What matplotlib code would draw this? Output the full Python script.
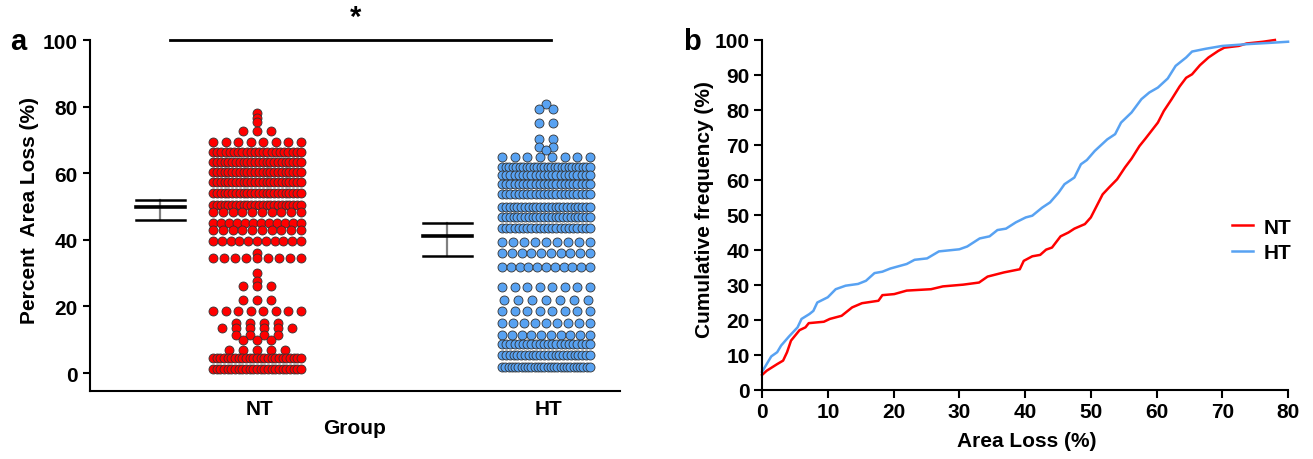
import numpy as np
import matplotlib
matplotlib.use("Agg")
import matplotlib.pyplot as plt

plt.rcParams['font.family'] = ['Liberation Sans', 'DejaVu Sans']
plt.rcParams['font.weight'] = 'bold'

# ---- panel a: rows of the scatter (value, number of points) ----
nt_levels = [78, 76.5, 75.5, 72.7, 69.5, 66.5, 63.5, 60.5, 57.5, 54, 50.5, 48.5,
             45, 43, 39.5, 36, 34.5, 30, 27.7, 26, 22, 18.5, 15, 13.5, 11.5,
             9.8, 6.9, 4.5, 1.2]
nt_counts = [1, 1, 1, 3, 8, 22, 24, 24, 24, 24, 24, 10,
             12, 10, 11, 1, 9, 1, 1, 3, 3, 8, 4, 6, 4,
             3, 5, 25, 25]

ht_levels = [80.8, 79.2, 75, 70.4, 67.8, 67, 65, 62, 59.5, 56.8, 53.8, 49.8,
             46.8, 43.5, 39.3, 36, 31.8, 25.8, 22, 18.5, 15, 11.5, 8.7, 5.5, 1.8]
ht_counts = [1, 2, 2, 2, 2, 1, 8, 26, 22, 22, 22, 24,
             24, 22, 9, 10, 11, 8, 7, 8, 9, 10, 22, 24, 28]

groups = ['NT', 'HT']
# lower, mean, upper of the error bars
nt_summary = [46, 50, 52]
ht_summary = [35, 41.3, 45]

# ---- panel b: cumulative frequency curves ----
cdf_nt_x = [0, 0.7, 2.3, 3.2, 3.8, 4.4, 5.7, 6.6, 7.1, 9.4, 10.3, 12.1, 13.7, 15.2,
            17.7, 18.3, 20.1, 22, 25.7, 27.5, 30.6, 33, 34.3, 36.8, 39.2, 39.8,
            41.1, 42.3, 43.2, 44.1, 45.4, 46.6, 47.5, 49.1, 50, 50.9, 51.8, 52.8,
            54, 55.2, 56.2, 57.4, 58.3, 60.2, 61.1, 62.3, 63.5, 64.5, 65.4, 66.6,
            67.9, 69.4, 70.3, 72.5, 73.7, 76.2, 78]
cdf_nt_y = [4.3, 5.5, 7.4, 8.4, 10.8, 14.1, 17.1, 17.9, 19.1, 19.5, 20.3, 21.2, 23.6, 24.8,
            25.5, 27.1, 27.4, 28.4, 28.8, 29.6, 30.1, 30.7, 32.4, 33.6, 34.5, 36.9,
            38.2, 38.6, 40.1, 40.7, 43.9, 45, 46.1, 47.4, 49.3, 52.6, 55.9, 57.9,
            60.2, 63.6, 66.1, 69.7, 71.8, 76.4, 79.7, 83.1, 86.7, 89.2, 90.2, 92.8,
            95, 96.9, 97.8, 98.3, 99, 99.5, 100]

cdf_ht_x = [0, 0.7, 1.4, 2.3, 2.9, 4.1, 5.4, 6, 7.2, 7.8, 8.4, 10, 11.2, 12.7, 14.6,
            15.8, 17.1, 18.3, 19.5, 22, 23.2, 25.1, 26.9, 30, 31.2, 33.1, 34.6,
            35.8, 37.1, 38.6, 40.1, 41.1, 42.6, 43.8, 45.1, 46, 47.5, 48.5, 49.4,
            50.6, 52.5, 53.7, 54.6, 56.2, 57.7, 58.9, 60.2, 61.7, 62.9, 64.5, 65.4,
            67.5, 70, 73.7, 77.4, 80]
cdf_ht_y = [5.2, 7.4, 9.6, 10.8, 12.7, 15.3, 17.9, 20.3, 21.7, 22.6, 25, 26.5, 28.8, 29.8, 30.3,
            31.2, 33.4, 33.8, 34.7, 36, 37.2, 37.6, 39.6, 40.2, 41, 43.3, 43.9,
            45.7, 46.1, 47.9, 49.3, 49.8, 52.1, 53.6, 56.4, 58.8, 60.7, 64.5, 65.7,
            68.3, 71.6, 73.1, 76.4, 79.3, 83.1, 85, 86.4, 89, 92.6, 95, 96.7,
            97.5, 98.3, 98.8, 99.2, 99.5]

red = '#FF0000'
blue = '#58A2F2'


def row_offsets(n, half=0.152, step=0.048):
    if n == 1:
        return np.array([0.0])
    d = min(step, 2 * half / (n - 1))
    return (np.arange(n) - (n - 1) / 2) * d


def swarm(ax, center, levels, counts, color):
    xs, ys = [], []
    for v, n in zip(levels, counts):
        xs.extend(center + row_offsets(n))
        ys.extend([v] * n)
    ax.scatter(xs, ys, s=42, c=color, edgecolors='#333333', linewidths=0.6,
               zorder=3, clip_on=False)


def error_bar(ax, x, lo, mid, hi, w=0.085):
    ax.plot([x, x], [lo, hi], color='#808080', lw=1.6, zorder=2)
    ax.plot([x - w, x + w], [lo, lo], color='black', lw=1.8, zorder=3)
    ax.plot([x - w, x + w], [hi, hi], color='black', lw=1.8, zorder=3)
    ax.plot([x - w, x + w], [mid, mid], color='black', lw=2.6, zorder=3)


fig = plt.figure(figsize=(13.13, 4.6), dpi=100)
ax_a = fig.add_axes([0.0685, 0.1478, 0.4037, 0.7630])
ax_b = fig.add_axes([0.5804, 0.15, 0.4006, 0.7609])

# panel a
swarm(ax_a, 0.99, nt_levels, nt_counts, red)
swarm(ax_a, 1.99, ht_levels, ht_counts, blue)
error_bar(ax_a, 0.655, *nt_summary)
error_bar(ax_a, 1.648, *ht_summary)
ax_a.plot([0.689, 2.007], [100, 100], color='black', lw=2, clip_on=False)
ax_a.text(1.33, 107, '*', ha='center', va='center', fontsize=21,
          fontweight='bold', clip_on=False)

ax_a.set_xlim(0.412, 2.246)
ax_a.set_ylim(-5.4, 100)
ax_a.set_yticks(range(0, 101, 20))
ax_a.set_xticks([1, 2])
ax_a.set_xticklabels(groups, fontsize=15, fontweight='bold')
ax_a.tick_params(axis='x', length=0, pad=6)
ax_a.tick_params(axis='y', length=5, width=1.5, labelsize=15, pad=4)
ax_a.set_ylabel('Percent  Area Loss (%)', fontsize=15, fontweight='bold')
ax_a.yaxis.set_label_coords(-0.096, 0.518)
ax_a.set_xlabel('Group', fontsize=15, fontweight='bold')
ax_a.xaxis.set_label_coords(0.5, -0.077)
for s in ['top', 'right']:
    ax_a.spines[s].set_visible(False)
for s in ['left', 'bottom']:
    ax_a.spines[s].set_linewidth(1.5)

# panel b
ax_b.plot(cdf_nt_x, cdf_nt_y, color=red, lw=1.8, label='NT', clip_on=False)
ax_b.plot(cdf_ht_x, cdf_ht_y, color=blue, lw=1.8, label='HT', clip_on=False)
ax_b.set_xlim(0, 80)
ax_b.set_ylim(0, 100)
ax_b.set_xticks(range(0, 81, 10))
ax_b.set_yticks(range(0, 101, 10))
ax_b.tick_params(length=6, width=1.5, labelsize=15, pad=3)
ax_b.set_xlabel('Area Loss (%)', fontsize=15, fontweight='bold')
ax_b.xaxis.set_label_coords(0.504, -0.117)
ax_b.set_ylabel('Cumulative frequency (%)', fontsize=15, fontweight='bold')
ax_b.yaxis.set_label_coords(-0.091, 0.517)
for s in ['top', 'right']:
    ax_b.spines[s].set_visible(False)
for s in ['left', 'bottom']:
    ax_b.spines[s].set_linewidth(1.5)
ax_b.legend(loc='center left', bbox_to_anchor=(0.894, 0.429), frameon=False,
            prop={'size': 15, 'weight': 'bold'}, handlelength=1.0,
            handletextpad=0.5, labelspacing=0.3, borderpad=0, borderaxespad=0)

for lab in ax_a.get_yticklabels() + ax_b.get_xticklabels() + ax_b.get_yticklabels():
    lab.set_fontweight('bold')

fig.text(0.0137, 0.909, 'a', fontsize=21, fontweight='bold', ha='center', va='center')
fig.text(0.527, 0.909, 'b', fontsize=21, fontweight='bold', ha='center', va='center')

fig.savefig('out.png', dpi=100)
